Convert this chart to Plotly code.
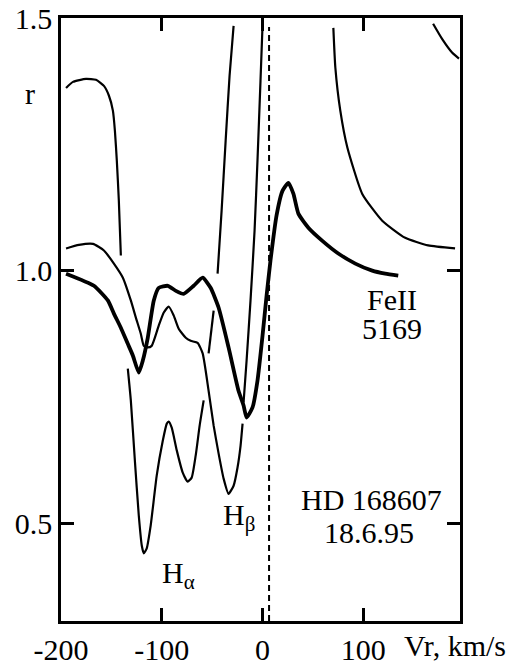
import plotly.graph_objects as go

# ---------------- data (velocity km/s, residual intensity r) ----------------
feii_v = [-195, -167.3, -153.5, -147.5, -140.6, -133.7, -128.7, -122.8, -118.8, -113.9,
          -107.9, -103, -94, -86, -78.2, -68.3, -59.4, -51.5, -43.6, -33.7, -23.8,
          -18.8, -15.8, -9.9, -5, 0, 4, 7.9, 13.9, 19.8, 25.7, 30.7, 35.6, 45.5,
          59.4, 75.2, 92.1, 108.9, 121.8, 134.7]
feii_r = [0.994, 0.970, 0.941, 0.915, 0.887, 0.855, 0.832, 0.798, 0.822, 0.867,
          0.941, 0.966, 0.970, 0.960, 0.954, 0.970, 0.986, 0.966, 0.927, 0.848, 0.762,
          0.733, 0.709, 0.729, 0.782, 0.871, 0.950, 1.020, 1.109, 1.158, 1.174, 1.152, 1.113, 1.085,
          1.059, 1.034, 1.014, 1.000, 0.994, 0.990]

halpha_v = [-195, -188.1, -175.2, -165.3, -157.4, -152.5, -148.5, -146.5, -144.6, -142.6, -140.6,
            None,
            -133.7, -130.7, -126.7, -122.8, -119.8, -117.8, -114.9, -111, -105, -99, -95,
            -93.1, -90.1, -85.1, -79.2, -74.3, -70.3, -66.3, -62.4, -58.4,
            None,
            -53.5, -48.5,
            None,
            -44.6, -40.6, -36.6, -32.7, -28.7,
            None,
            169.3, 178.2, 188.1, 195]
halpha_r = [1.362, 1.374, 1.380, 1.378, 1.366, 1.347, 1.317, 1.277, 1.218, 1.139, 1.030,
            None,
            0.806, 0.743, 0.624, 0.515, 0.455, 0.440, 0.450, 0.495, 0.594, 0.663, 0.697,
            0.701, 0.689, 0.644, 0.600, 0.582, 0.590, 0.634, 0.693, 0.743,
            None,
            0.836, 0.921,
            None,
            0.994, 1.119, 1.257, 1.386, 1.485,
            None,
            1.489, 1.459, 1.432, 1.420]

hbeta_v = [-195, -182.2, -168.3, -157.4, -147.5, -138.6, -130.7, -125.7, -120.8, -117.8,
           -113.9, -110, -103, -98, -93.1, -88.1, -83.2, -76.2, -71.3, -64.4, -59.4,
           -53.5, -48.5, -43.6, -38.6, -33.7, -28.7, -24.8, -21.8, -19.8,
           None,
           -18.8, -15.8, -11.9, -7.9, -5, -2, 0,
           None,
           70.3, 72.3, 77.2, 84.2, 99, 118.8, 141.6, 164.4, 191.1]
hbeta_r = [1.044, 1.051, 1.053, 1.040, 1.014, 0.986, 0.941, 0.907, 0.875, 0.851,
           0.848, 0.851, 0.891, 0.917, 0.929, 0.911, 0.885, 0.867, 0.861, 0.857, 0.836,
           0.762, 0.693, 0.638, 0.588, 0.558, 0.574, 0.610, 0.653, 0.697,
           None,
           0.739, 0.822, 0.941, 1.079, 1.218, 1.376, 1.485,
           None,
           1.481, 1.402, 1.317, 1.244, 1.152, 1.099, 1.065, 1.050, 1.044]

rest_velocity = 6.5
x_ticks = [-200, -100, 0, 100]
x_tick_labels = ["-200", "-100", "0", "100"]
y_ticks = [0.5, 1.0, 1.5]
y_tick_labels = ["0.5", "1.0", "1.5"]

FONT = "Liberation Serif, Times New Roman, serif"

fig = go.Figure()
fig.add_trace(go.Scatter(x=halpha_v, y=halpha_r, mode="lines",
                         line=dict(color="black", width=2.2, shape="spline", smoothing=0.5),
                         connectgaps=False, name="Halpha"))
fig.add_trace(go.Scatter(x=hbeta_v, y=hbeta_r, mode="lines",
                         line=dict(color="black", width=2.2, shape="spline", smoothing=0.5),
                         connectgaps=False, name="Hbeta"))
fig.add_trace(go.Scatter(x=feii_v, y=feii_r, mode="lines",
                         line=dict(color="black", width=3.8, shape="spline", smoothing=0.5),
                         name="FeII 5169"))

fig.add_shape(type="line", xref="x", yref="paper", x0=rest_velocity, x1=rest_velocity,
              y0=0, y1=0.985, line=dict(color="black", width=2, dash="6px,4px"))

axis_common = dict(showline=True, linecolor="black", linewidth=2.5, mirror="ticks",
                   ticks="inside", ticklen=13, tickwidth=2.5, tickcolor="black",
                   showgrid=False, zeroline=False, automargin=False,
                   ticklabeloverflow="allow",
                   tickfont=dict(family=FONT, size=30, color="black"))

fig.update_xaxes(range=[-200, 196], tickvals=x_ticks, ticktext=x_tick_labels, **axis_common)
fig.update_yaxes(range=[0.306, 1.5005], tickvals=y_ticks, ticktext=y_tick_labels, **axis_common)

ann_font = dict(family=FONT, size=30, color="black")
annotations = [
    dict(text="r", xref="paper", yref="y", x=-0.078, y=1.35, showarrow=False,
         font=ann_font, xanchor="center", yanchor="middle"),
    dict(text="Vr, km/s", xref="paper", yref="paper", x=0.855, y=-0.04, showarrow=False,
         font=ann_font, xanchor="left", yanchor="middle"),
    dict(text="FeII", xref="x", yref="y", x=128.7, y=0.942, showarrow=False,
         font=ann_font, xanchor="center", yanchor="middle"),
    dict(text="5169", xref="x", yref="y", x=128.7, y=0.885, showarrow=False,
         font=ann_font, xanchor="center", yanchor="middle"),
    dict(text="HD 168607", xref="x", yref="y", x=108.4, y=0.547, showarrow=False,
         font=ann_font, xanchor="center", yanchor="middle"),
    dict(text="18.6.95", xref="x", yref="y", x=106, y=0.481, showarrow=False,
         font=ann_font, xanchor="center", yanchor="middle"),
    dict(text="H<sub>α</sub>", xref="x", yref="y", x=-83, y=0.398, showarrow=False,
         font=ann_font, xanchor="center", yanchor="middle"),
    dict(text="H<sub>β</sub>", xref="x", yref="y", x=-23.8, y=0.512, showarrow=False,
         font=ann_font, xanchor="center", yanchor="middle"),
]

fig.update_layout(width=510, height=666, margin=dict(l=61, r=50, t=18, b=45),
                  paper_bgcolor="white", plot_bgcolor="white", showlegend=False,
                  annotations=annotations, font=dict(family=FONT, color="black"))

# remove the default 8 px page margin so the figure fills the window exactly
fig.write_html("out.html", config={"displayModeBar": False},
               post_script="document.body.style.margin='0px';")
